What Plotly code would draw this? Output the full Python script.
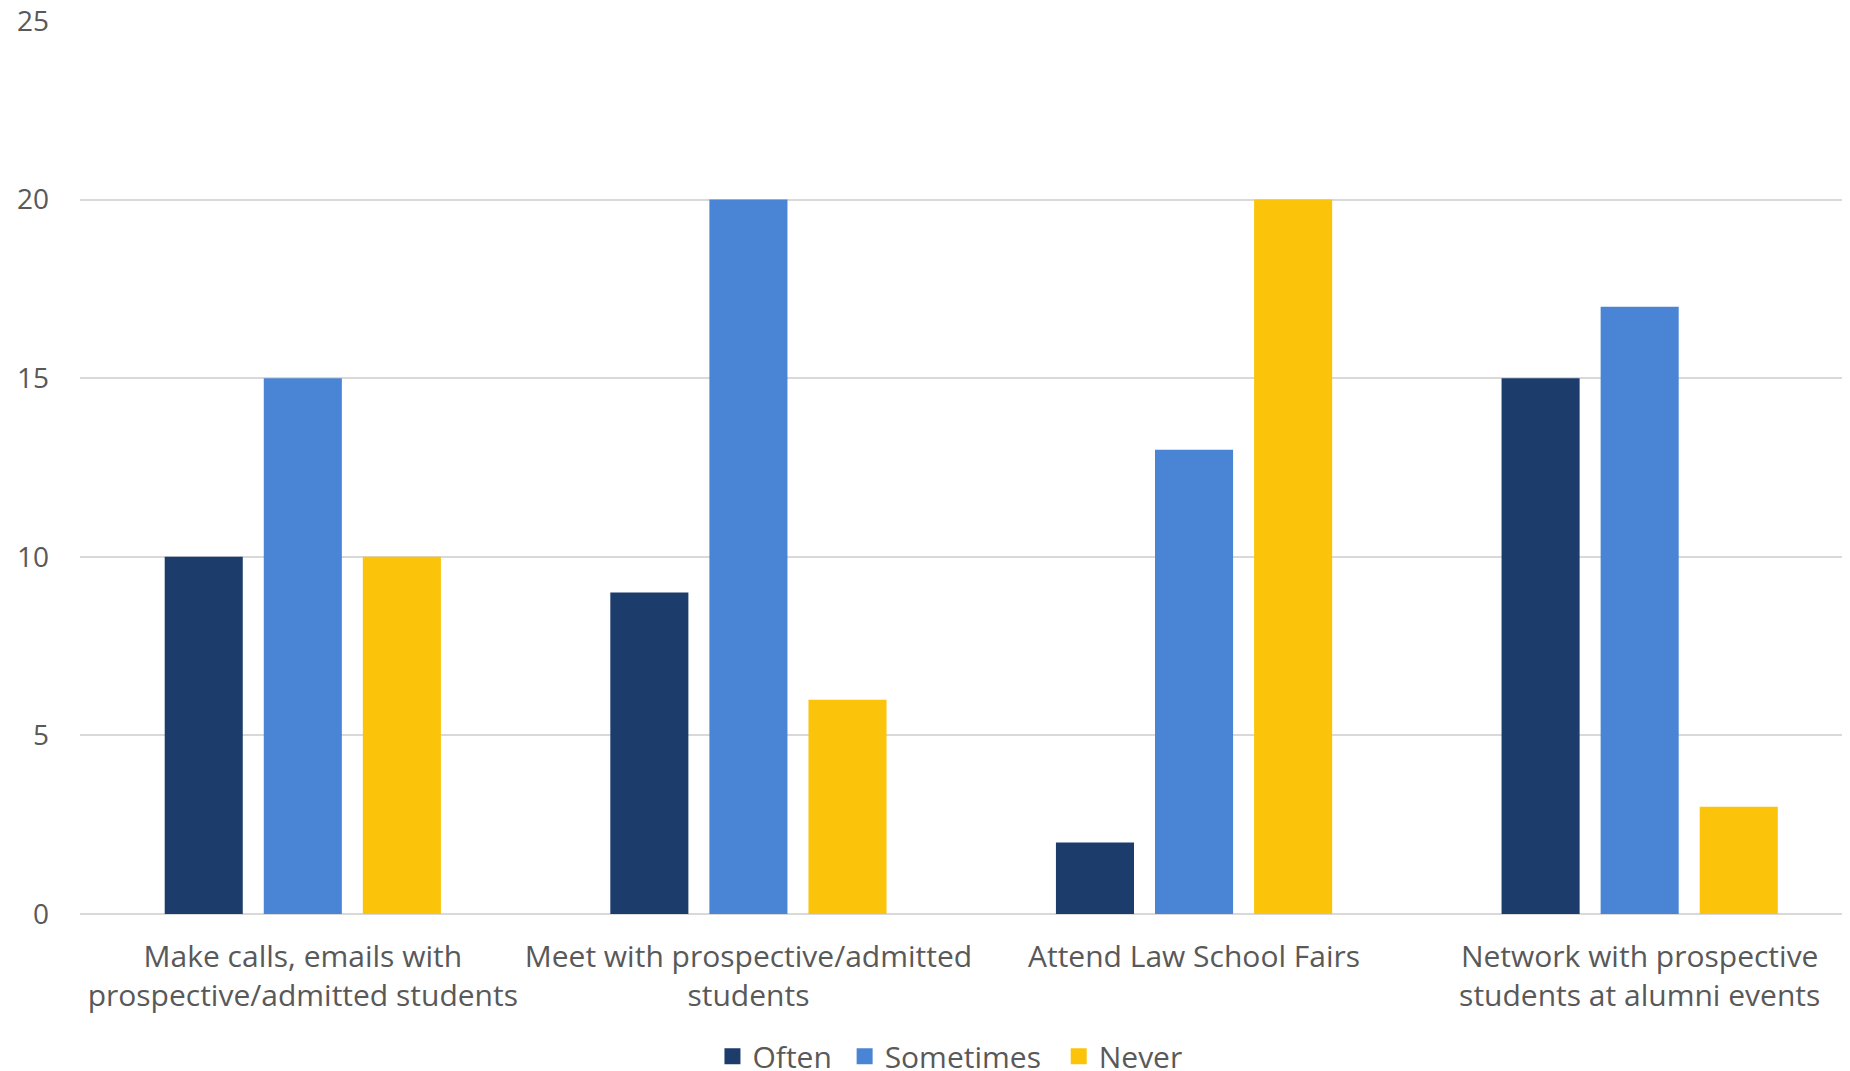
import plotly.graph_objects as go

categories = [
    "Make calls, emails with<br>prospective/admitted students",
    "Meet with prospective/admitted<br>students",
    "Attend Law School Fairs",
    "Network with prospective<br>students at alumni events",
]
often = [10, 9, 2, 15]
sometimes = [15, 20, 13, 17]
never = [10, 6, 20, 3]
y_ticks = [0, 5, 10, 15, 20, 25]

series = [
    ("Often", often, "#1C3D6C"),
    ("Sometimes", sometimes, "#4A84D4"),
    ("Never", never, "#FCC30B"),
]
legend_pad = ["\u00a0", "\u00a0\u2009", ""]

FONT = "Open Sans, Liberation Sans, sans-serif"
TXT = "#595959"

fig = go.Figure()
for name, vals, col in series:
    fig.add_trace(go.Bar(x=list(range(len(categories))), y=vals, name=name,
                         marker=dict(color=col, line=dict(width=0)), showlegend=False))
# legend entries with larger square swatches
for (name, vals, col), pad in zip(series, legend_pad):
    fig.add_trace(go.Scatter(x=[None], y=[None], name=name + pad, mode="markers",
                             marker=dict(symbol="square", size=16, color=col)))

# the page body has an 8px margin, so the figure is drawn 8px smaller
fig.update_layout(
    width=1842, height=1063,
    margin=dict(l=72, r=0, t=12.5, b=156.5, autoexpand=False),
    paper_bgcolor="white", plot_bgcolor="white",
    barmode="group", bargap=0.333, bargroupgap=0.212,
    font=dict(family=FONT, color=TXT, size=30),
    showlegend=True,
    legend=dict(orientation="h", x=0.4915, xanchor="center", y=-0.1594, yanchor="middle",
                font=dict(size=30, color=TXT), itemwidth=30, traceorder="normal",
                tracegroupgap=0),
)
fig.update_xaxes(
    tickmode="array", tickvals=list(range(len(categories))), ticktext=categories,
    range=[-0.5, 3.472], showgrid=False, zeroline=False, showline=False,
    ticks="", tickfont=dict(size=30, color=TXT), ticklabelstandoff=22, automargin=False,
)
fig.update_yaxes(
    range=[0, 25], tickvals=y_ticks, showgrid=True, gridcolor="#D9D9D9", gridwidth=1.5,
    zeroline=True, zerolinecolor="#D9D9D9", zerolinewidth=1.5, showline=False,
    ticks="", tickfont=dict(size=28, color=TXT), ticklabelstandoff=30, automargin=False,
    ticklabeloverflow="allow",
)

fig.write_html("out.html")
